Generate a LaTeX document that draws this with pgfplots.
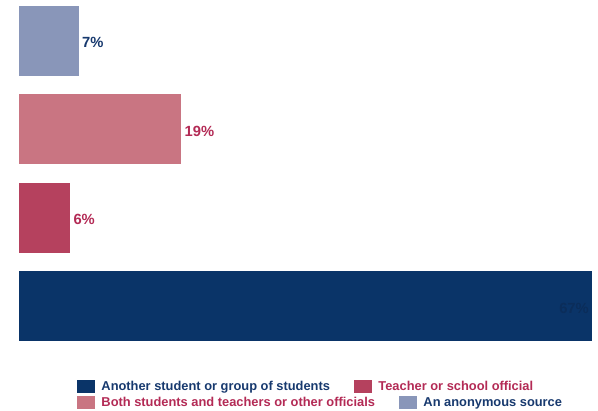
\documentclass[border=0pt]{standalone}
\usepackage{pgfplots}
\pgfplotsset{compat=1.18}
\usepackage{fontspec}
\setmainfont{Liberation Sans}

\definecolor{navybar}{HTML}{0A3468}
\definecolor{navylab}{HTML}{0B2D5A}
\definecolor{navytxt}{HTML}{17396E}
\definecolor{crimbar}{HTML}{B5415E}
\definecolor{crimtxt}{HTML}{B32A55}
\definecolor{pinkbar}{HTML}{C97582}
\definecolor{slatebar}{HTML}{8996B9}

\pgfplotsset{
  sq legend/.style={legend image code/.code={\fill[##1, draw=none] (0bp,-6.5bp) rectangle (18bp,6.5bp);}},
  frame/.style={
    at={(19bp,411bp)}, anchor=north west,
    scale only axis, width=573bp, height=350bp,
    xmin=0, xmax=67, ymin=-0.497, ymax=3.458,
    hide axis,
    legend columns=-1,
    legend cell align=left,
  },
  leg/.style={legend style={at={(0.1012,#1)}, anchor=north west,
      draw=none, fill=none, inner sep=0pt, outer sep=0pt,
      font=\fontsize{12.9}{14}\selectfont\bfseries,
      nodes={inner sep=0pt},
      /tikz/every odd column/.style={column sep=6.5bp},
      /tikz/every even column/.style={column sep=24bp}}},
}

\begin{document}
\begin{tikzpicture}
\path[use as bounding box] (0,0) rectangle (598bp,411bp);

\begin{axis}[frame, leg=-0.0857,
    xbar,
    every axis plot/.append style={bar shift=0pt, bar width=70bp, draw=none},
    /pgf/number format/assume math mode=true,
    nodes near coords={\pgfmathprintnumber{\pgfplotspointmeta}\%},
    every node near coord/.append style={font=\fontsize{14.8}{16}\selectfont\bfseries,
      inner sep=3bp, yshift=-2bp},
  ]
  % bottom to top: 67, 6, 19, 7
  \addplot[sq legend, fill=navybar,
    every node near coord/.append style={anchor=east, text=navylab}]
    coordinates {(67,0)};
  \addlegendentry{\textcolor{navytxt}{Another student or group of students}}
  \addplot[sq legend, fill=crimbar,
    every node near coord/.append style={text=crimtxt}]
    coordinates {(6,1)};
  \addlegendentry{\textcolor{crimtxt}{Teacher or school official}}
  \addplot[sq legend, fill=pinkbar,
    every node near coord/.append style={text=crimtxt}]
    coordinates {(19,2)};
  \addplot[sq legend, fill=slatebar,
    every node near coord/.append style={text=navytxt}]
    coordinates {(7,3)};
\end{axis}

\begin{axis}[frame, leg=-0.1314]
  \addlegendimage{sq legend, fill=pinkbar}
  \addlegendentry{\textcolor{crimtxt}{Both students and teachers or other officials}}
  \addlegendimage{sq legend, fill=slatebar}
  \addlegendentry{\textcolor{navytxt}{An anonymous source}}
\end{axis}
\end{tikzpicture}
\end{document}
